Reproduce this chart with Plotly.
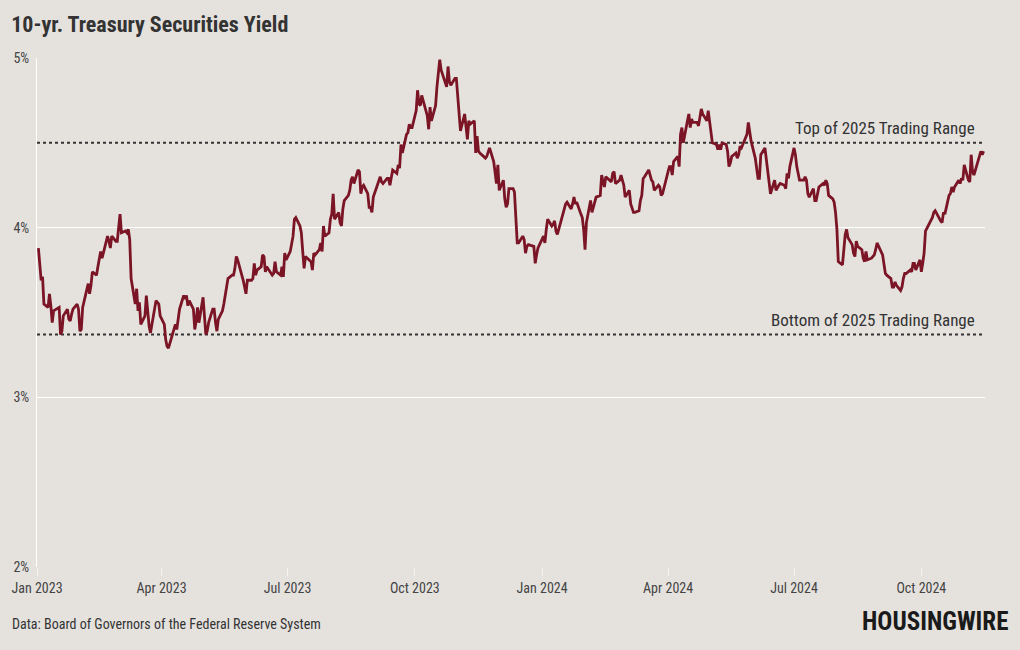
import plotly.graph_objects as go

# ---- Data (10-yr Treasury yield, %, daily) ----
dates_2023 = [
    "2023-01-02","2023-01-03","2023-01-04","2023-01-05","2023-01-06","2023-01-09","2023-01-10","2023-01-11","2023-01-12","2023-01-13",
    "2023-01-17","2023-01-18","2023-01-19","2023-01-20","2023-01-23","2023-01-24","2023-01-25","2023-01-26","2023-01-27","2023-01-30","2023-01-31",
    "2023-02-01","2023-02-02","2023-02-03","2023-02-06","2023-02-07","2023-02-08","2023-02-09","2023-02-10","2023-02-13","2023-02-14",
    "2023-02-15","2023-02-16","2023-02-17","2023-02-21","2023-02-22","2023-02-23","2023-02-24","2023-02-27","2023-02-28",
    "2023-03-01","2023-03-02","2023-03-03","2023-03-06","2023-03-07","2023-03-08","2023-03-09","2023-03-10","2023-03-13","2023-03-14",
    "2023-03-15","2023-03-16","2023-03-17","2023-03-20","2023-03-21","2023-03-22","2023-03-23","2023-03-24","2023-03-27","2023-03-28",
    "2023-03-29","2023-03-30","2023-03-31",
    "2023-04-03","2023-04-04","2023-04-05","2023-04-06","2023-04-10","2023-04-11","2023-04-12","2023-04-13","2023-04-14","2023-04-17",
    "2023-04-18","2023-04-19","2023-04-20","2023-04-21","2023-04-24","2023-04-25","2023-04-26","2023-04-27","2023-04-28",
    "2023-05-01","2023-05-02","2023-05-03","2023-05-04","2023-05-05","2023-05-08","2023-05-09","2023-05-10","2023-05-11","2023-05-12",
    "2023-05-15","2023-05-16","2023-05-17","2023-05-18","2023-05-19","2023-05-22","2023-05-23","2023-05-24","2023-05-25","2023-05-26",
    "2023-05-30","2023-05-31",
    "2023-06-01","2023-06-02","2023-06-05","2023-06-06","2023-06-07","2023-06-08","2023-06-09","2023-06-12","2023-06-13","2023-06-14",
    "2023-06-15","2023-06-16","2023-06-20","2023-06-21","2023-06-22","2023-06-23","2023-06-26","2023-06-27","2023-06-28","2023-06-29","2023-06-30",
    "2023-07-03","2023-07-05","2023-07-06","2023-07-07","2023-07-10","2023-07-11","2023-07-12","2023-07-13","2023-07-14","2023-07-17",
    "2023-07-18","2023-07-19","2023-07-20","2023-07-21","2023-07-24","2023-07-25","2023-07-26","2023-07-27","2023-07-28","2023-07-31",
    "2023-08-01","2023-08-02","2023-08-03","2023-08-04","2023-08-07","2023-08-08","2023-08-09","2023-08-10","2023-08-11","2023-08-14",
    "2023-08-15","2023-08-16","2023-08-17","2023-08-18","2023-08-21","2023-08-22","2023-08-23","2023-08-24","2023-08-25","2023-08-28",
    "2023-08-29","2023-08-30","2023-08-31",
    "2023-09-01","2023-09-05","2023-09-06","2023-09-07","2023-09-08","2023-09-11","2023-09-12","2023-09-13","2023-09-14","2023-09-15",
    "2023-09-18","2023-09-19","2023-09-20","2023-09-21","2023-09-22","2023-09-25","2023-09-26","2023-09-27","2023-09-28","2023-09-29",
    "2023-10-02","2023-10-03","2023-10-04","2023-10-05","2023-10-06","2023-10-10","2023-10-11","2023-10-12","2023-10-13","2023-10-16",
    "2023-10-17","2023-10-18","2023-10-19","2023-10-20","2023-10-23","2023-10-24","2023-10-25","2023-10-26","2023-10-27","2023-10-30","2023-10-31",
    "2023-11-01","2023-11-02","2023-11-03","2023-11-06","2023-11-07","2023-11-08","2023-11-09","2023-11-10","2023-11-13","2023-11-14",
    "2023-11-15","2023-11-16","2023-11-17","2023-11-20","2023-11-21","2023-11-22","2023-11-24","2023-11-27","2023-11-28","2023-11-29","2023-11-30",
    "2023-12-01","2023-12-04","2023-12-05","2023-12-06","2023-12-07","2023-12-08","2023-12-11","2023-12-12","2023-12-13","2023-12-14",
    "2023-12-15","2023-12-18","2023-12-19","2023-12-20","2023-12-21","2023-12-22","2023-12-26","2023-12-27","2023-12-28","2023-12-29",
]
yields_2023 = [
    3.88,3.79,3.69,3.71,3.55,3.53,3.61,3.54,3.44,3.51,
    3.53,3.37,3.39,3.48,3.52,3.46,3.45,3.49,3.52,3.55,3.52,
    3.39,3.40,3.53,3.64,3.67,3.61,3.66,3.74,3.72,3.77,
    3.81,3.86,3.82,3.95,3.92,3.88,3.95,3.92,3.92,
    4.01,4.08,3.97,3.98,3.97,3.99,3.93,3.70,3.55,3.64,
    3.51,3.56,3.43,3.48,3.60,3.48,3.42,3.38,3.53,3.57,
    3.56,3.55,3.48,
    3.43,3.34,3.30,3.29,3.41,3.43,3.40,3.45,3.52,3.60,
    3.58,3.60,3.54,3.57,3.52,3.40,3.45,3.53,3.44,
    3.59,3.44,3.37,3.39,3.44,3.52,3.52,3.44,3.39,3.46,
    3.51,3.55,3.59,3.65,3.70,3.72,3.72,3.76,3.83,3.81,
    3.69,3.64,
    3.61,3.69,3.69,3.70,3.79,3.72,3.75,3.77,3.84,3.83,
    3.74,3.77,3.72,3.73,3.80,3.74,3.72,3.77,3.71,3.85,3.81,
    3.86,3.95,4.05,4.06,4.01,3.97,3.86,3.76,3.83,3.81,
    3.80,3.75,3.85,3.84,3.87,3.91,3.86,4.01,3.95,3.97,
    4.05,4.08,4.20,4.05,4.09,4.03,4.01,4.11,4.16,4.19,
    4.22,4.28,4.30,4.26,4.34,4.33,4.20,4.24,4.25,4.20,
    4.12,4.12,4.09,
    4.18,4.27,4.30,4.27,4.26,4.29,4.29,4.25,4.29,4.34,
    4.32,4.37,4.35,4.49,4.44,4.55,4.56,4.61,4.59,4.59,
    4.69,4.81,4.73,4.72,4.78,4.66,4.58,4.71,4.63,4.72,
    4.83,4.90,4.99,4.93,4.86,4.83,4.95,4.86,4.84,4.88,4.88,
    4.77,4.67,4.57,4.67,4.58,4.52,4.63,4.61,4.63,4.44,
    4.54,4.45,4.44,4.42,4.41,4.42,4.47,4.39,4.33,4.26,4.37,
    4.22,4.28,4.17,4.12,4.14,4.23,4.23,4.21,4.04,3.91,
    3.91,3.95,3.93,3.85,3.89,3.90,3.89,3.79,3.84,3.88,
]

dates_2024 = [
    "2024-01-02","2024-01-03","2024-01-04","2024-01-05","2024-01-08","2024-01-09","2024-01-10","2024-01-11","2024-01-12","2024-01-16",
    "2024-01-17","2024-01-18","2024-01-19","2024-01-22","2024-01-23","2024-01-24","2024-01-25","2024-01-26","2024-01-29","2024-01-30","2024-01-31",
    "2024-02-01","2024-02-02","2024-02-05","2024-02-06","2024-02-07","2024-02-08","2024-02-09","2024-02-12","2024-02-13","2024-02-14",
    "2024-02-15","2024-02-16","2024-02-20","2024-02-21","2024-02-22","2024-02-23","2024-02-26","2024-02-27","2024-02-28","2024-02-29",
    "2024-03-01","2024-03-04","2024-03-05","2024-03-06","2024-03-07","2024-03-08","2024-03-11","2024-03-12","2024-03-13","2024-03-14",
    "2024-03-15","2024-03-18","2024-03-19","2024-03-20","2024-03-21","2024-03-22","2024-03-25","2024-03-26","2024-03-27","2024-03-28",
    "2024-04-01","2024-04-02","2024-04-03","2024-04-04","2024-04-05","2024-04-08","2024-04-09","2024-04-10","2024-04-11","2024-04-12",
    "2024-04-15","2024-04-16","2024-04-17","2024-04-18","2024-04-19","2024-04-22","2024-04-23","2024-04-24","2024-04-25","2024-04-26",
    "2024-04-29","2024-04-30",
    "2024-05-01","2024-05-02","2024-05-03","2024-05-06","2024-05-07","2024-05-08","2024-05-09","2024-05-10","2024-05-13","2024-05-14",
    "2024-05-15","2024-05-16","2024-05-17","2024-05-20","2024-05-21","2024-05-22","2024-05-23","2024-05-24","2024-05-28","2024-05-29",
    "2024-05-30","2024-05-31",
    "2024-06-03","2024-06-04","2024-06-05","2024-06-06","2024-06-07","2024-06-10","2024-06-11","2024-06-12","2024-06-13","2024-06-14",
    "2024-06-17","2024-06-18","2024-06-20","2024-06-21","2024-06-24","2024-06-25","2024-06-26","2024-06-27","2024-06-28",
    "2024-07-01","2024-07-02","2024-07-03","2024-07-05","2024-07-08","2024-07-09","2024-07-10","2024-07-11","2024-07-12","2024-07-15",
    "2024-07-16","2024-07-17","2024-07-18","2024-07-19","2024-07-22","2024-07-23","2024-07-24","2024-07-25","2024-07-26","2024-07-29",
    "2024-07-30","2024-07-31",
    "2024-08-01","2024-08-02","2024-08-05","2024-08-06","2024-08-07","2024-08-08","2024-08-09","2024-08-12","2024-08-13","2024-08-14",
    "2024-08-15","2024-08-16","2024-08-19","2024-08-20","2024-08-21","2024-08-22","2024-08-23","2024-08-26","2024-08-27","2024-08-28",
    "2024-08-29","2024-08-30",
    "2024-09-03","2024-09-04","2024-09-05","2024-09-06","2024-09-09","2024-09-10","2024-09-11","2024-09-12","2024-09-13","2024-09-16",
    "2024-09-17","2024-09-18","2024-09-19","2024-09-20","2024-09-23","2024-09-24","2024-09-25","2024-09-26","2024-09-27","2024-09-30",
    "2024-10-01","2024-10-02","2024-10-03","2024-10-04","2024-10-07","2024-10-08","2024-10-09","2024-10-10","2024-10-11","2024-10-15",
    "2024-10-16","2024-10-17","2024-10-18","2024-10-21","2024-10-22","2024-10-23","2024-10-24","2024-10-25","2024-10-28","2024-10-29",
    "2024-10-30","2024-10-31",
    "2024-11-01","2024-11-04","2024-11-05","2024-11-06","2024-11-07","2024-11-08","2024-11-12","2024-11-13","2024-11-14","2024-11-15",
]
yields_2024 = [
    3.95,3.91,3.99,4.05,4.01,4.02,4.04,3.98,3.96,4.07,
    4.10,4.14,4.15,4.11,4.14,4.18,4.14,4.15,4.08,4.06,3.99,
    3.87,4.03,4.16,4.09,4.12,4.15,4.18,4.19,4.31,4.27,
    4.24,4.30,4.27,4.32,4.33,4.26,4.28,4.31,4.27,4.25,
    4.18,4.22,4.14,4.12,4.09,4.09,4.10,4.16,4.19,4.29,
    4.30,4.34,4.30,4.28,4.27,4.22,4.25,4.24,4.19,4.20,
    4.33,4.36,4.36,4.31,4.39,4.42,4.36,4.55,4.59,4.50,
    4.63,4.67,4.59,4.64,4.62,4.62,4.60,4.65,4.70,4.67,
    4.63,4.69,
    4.63,4.59,4.50,4.49,4.46,4.49,4.46,4.50,4.49,4.45,
    4.36,4.38,4.42,4.44,4.41,4.43,4.48,4.47,4.55,4.62,
    4.55,4.51,
    4.41,4.33,4.29,4.29,4.43,4.47,4.40,4.31,4.24,4.20,
    4.28,4.22,4.25,4.26,4.25,4.23,4.32,4.29,4.36,
    4.47,4.43,4.36,4.28,4.28,4.30,4.28,4.20,4.18,4.23,
    4.16,4.16,4.20,4.24,4.26,4.25,4.28,4.26,4.19,4.17,
    4.15,4.09,
    3.99,3.80,3.78,3.90,3.96,3.99,3.94,3.90,3.85,3.83,
    3.92,3.89,3.87,3.82,3.80,3.86,3.81,3.82,3.83,3.84,
    3.87,3.91,
    3.84,3.77,3.73,3.72,3.70,3.65,3.65,3.68,3.66,3.63,
    3.65,3.70,3.73,3.73,3.75,3.74,3.79,3.79,3.75,3.81,
    3.74,3.79,3.85,3.98,4.03,4.04,4.06,4.09,4.10,4.04,
    4.03,4.09,4.08,4.19,4.20,4.24,4.21,4.24,4.28,4.26,
    4.29,4.28,
    4.37,4.28,4.27,4.43,4.33,4.31,4.43,4.45,4.43,4.45,
]

range_levels = [4.50, 3.37]
range_labels = ["Top of 2025 Trading Range", "Bottom of 2025 Trading Range"]
y_ticks = [2, 3, 4, 5]
y_tick_labels = ["2%", "3%", "4%", "5%"]

dates = dates_2023 + dates_2024
yields = yields_2023 + yields_2024

BG = "#e5e2de"
LINE = "#7b1526"
FONT = "Roboto Condensed, Liberation Sans Narrow, Arial Narrow, Roboto, sans-serif"

fig = go.Figure()
fig.add_trace(go.Scatter(
    x=dates, y=yields, mode="lines",
    line=dict(color=LINE, width=2.8),
    hoverinfo="x+y", showlegend=False,
))

for lvl, lab in zip(range_levels, range_labels):
    fig.add_hline(y=lvl, line=dict(color="#333333", width=2, dash="dot"), layer="below")
    fig.add_annotation(x=1, xref="paper", y=lvl, yref="y", text=lab,
                       showarrow=False, xanchor="right", yanchor="bottom",
                       xshift=-8, yshift=3,
                       font=dict(family=FONT, size=17, color="#333333"))

fig.add_annotation(text="Data: Board of Governors of the Federal Reserve System",
                   x=0, xref="paper", xanchor="left", xshift=-27,
                   y=0, yref="paper", yanchor="middle", yshift=-57, showarrow=False,
                   font=dict(family=FONT, size=14, color="#333333"))
fig.add_annotation(text="<b>HOUSINGWIRE</b>", x=1, xref="paper", xanchor="right", xshift=25,
                   y=0, yref="paper", yanchor="middle", yshift=-54, showarrow=False,
                   font=dict(family=FONT, size=25, color="#1a1a1a", weight=900))

fig.update_layout(
    width=1020, height=650,
    paper_bgcolor=BG, plot_bgcolor=BG,
    margin=dict(l=37, r=35, t=58, b=83),
    font=dict(family=FONT, color="#444444"),
    title=dict(text="<b>10-yr. Treasury Securities Yield</b>", x=0.011, xanchor="left",
               y=0.963, yanchor="middle",
               font=dict(family=FONT, size=22, color="#333333")),
    xaxis=dict(range=["2023-01-01", "2024-11-16"], dtick="M3", tick0="2023-01-01",
               tickformat="%b %Y", showgrid=False, zeroline=False,
               ticks="outside", ticklen=8, tickcolor="#f5f3f1", tickwidth=1,
               tickfont=dict(family=FONT, size=14, color="#444444"), showline=False),
    yaxis=dict(range=[2, 5], tickvals=y_ticks, ticktext=y_tick_labels,
               showgrid=True, gridcolor="#ffffff", gridwidth=1, zeroline=False,
               showline=True, linecolor="#ffffff", linewidth=1,
               ticks="", ticklabelstandoff=4,
               tickfont=dict(family=FONT, size=14, color="#444444")),
)

fig.write_html(
    "out.html",
    config={"displayModeBar": False},
    post_script="document.body.style.margin='0';document.body.style.background='#e5e2de';",
)
